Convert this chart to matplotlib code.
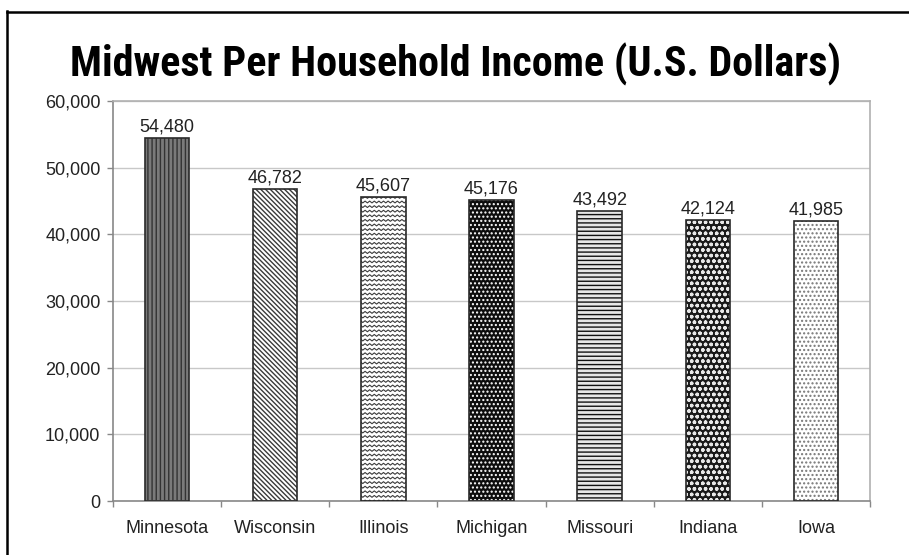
import numpy as np
import matplotlib as mpl
mpl.use('Agg')
import matplotlib.pyplot as plt
import matplotlib.ticker as ticker
from matplotlib import font_manager
from matplotlib.lines import Line2D

# Data
states = ['Minnesota', 'Wisconsin', 'Illinois', 'Michigan', 'Missouri', 'Indiana', 'Iowa']
income = [54480, 46782, 45607, 45176, 43492, 42124, 41985]
yticks = [0, 10000, 20000, 30000, 40000, 50000, 60000]

# face colour, hatch, hatch colour (None hatch = zigzag drawn by hand)
styles = [
    ('#7a7a7a', '||||', '#333333'),
    ('white', '\\' * 7, '#3a3a3a'),
    ('white', None, '#3a3a3a'),
    ('#0d0d0d', '....', 'white'),
    ('#e6e6e6', '----', '#111111'),
    ('#1a1a1a', 'ooo', '#e8e8e8'),
    ('white', '....', '#777777'),
]

installed = {f.name for f in font_manager.fontManager.ttflist}
title_font = next((f for f in ['Liberation Sans Narrow', 'DejaVu Sans Condensed',
                               'Roboto Condensed', 'Open Sans Condensed']
                   if f in installed), 'DejaVu Sans')
body_font = 'Liberation Sans' if 'Liberation Sans' in installed else 'DejaVu Sans'

plt.rcParams['font.family'] = [body_font, 'DejaVu Sans']
plt.rcParams['hatch.linewidth'] = 1.0

fig = plt.figure(figsize=(9.09, 5.55), dpi=100, facecolor='w')
ax = fig.add_axes([113/909, 54/555, 757/909, 400/555])
ax.set_axisbelow(True)

x = np.arange(len(states))
ax.set_xlim(-0.5, len(states) - 0.5)
ax.set_ylim(0, 60000)

bars = []
for i, (face, hatch, hcol) in enumerate(styles):
    ax.bar(x[i], income[i], width=0.41, color=face, edgecolor=hcol,
           hatch=hatch, lw=0, zorder=2)
    b = ax.bar(x[i], income[i], width=0.41, facecolor='none',
               edgecolor='#2a2a2a', lw=1.2, zorder=4)
    bars.append(b)

# zigzag texture for Illinois
inv = ax.transData.inverted()
p0 = inv.transform((0, 0))
p1 = inv.transform((1, 1))
dxp, dyp = p1[0] - p0[0], p1[1] - p0[1]
zz_bar = bars[2].patches[0]
x0, x1 = zz_bar.get_x(), zz_bar.get_x() + zz_bar.get_width()
xs, ys = [], []
for row in np.arange(0, income[2] + 5 * dyp, 4.6 * dyp):
    xx = np.arange(x0 - 3 * dxp, x1 + 3 * dxp, 2.3 * dxp)
    yy = row + np.where(np.arange(len(xx)) % 2 == 0, -0.9, 0.9) * dyp
    xs.extend(list(xx) + [np.nan])
    ys.extend(list(yy) + [np.nan])
zz, = ax.plot(xs, ys, color='#3a3a3a', lw=0.8, zorder=3)
zz.set_clip_path(zz_bar)

for b in bars:
    ax.bar_label(b, labels=[f'{v:,.0f}' for v in b.datavalues],
                 padding=2, fontsize=13, color='#222222')

ax.set_yticks(yticks)
ax.yaxis.set_major_formatter(ticker.FuncFormatter(lambda v, p: f'{v:,.0f}'))
ax.set_xticks(x)
ax.set_xticklabels(states)
ax.set_xticks(np.arange(-0.5, len(states)), minor=True)
ax.grid(axis='y', color='#c8c8c8', lw=1.0)
ax.tick_params(axis='y', length=4, width=1, color='#888888', pad=5,
               labelsize=13, labelcolor='#222222')
ax.tick_params(axis='x', which='major', length=0, pad=14,
               labelsize=13, labelcolor='#222222')
ax.tick_params(axis='x', which='minor', length=4, width=1, color='#888888')
for s in ['left', 'bottom']:
    ax.spines[s].set_color('#888888')
for s in ['top', 'right']:
    ax.spines[s].set_color('#b0b0b0')
for s in ax.spines.values():
    s.set_linewidth(1.2)

# title, sized to fit the original width
title = fig.text(455/909, 1 - 64/555, 'Midwest Per Household Income (U.S. Dollars)',
                 ha='center', va='center', fontsize=30, fontweight='bold',
                 family=[title_font, 'DejaVu Sans'], color='black')
r = fig.canvas.get_renderer()
w = title.get_window_extent(r).width
title.set_fontsize(min(40, 30 * 770 / w))

# frame lines
fig.add_artist(Line2D([7.5/909, 7.5/909], [0, 1 - 11/555], color='black',
                      lw=1.8, transform=fig.transFigure))
fig.add_artist(Line2D([7.5/909, 1], [1 - 11.5/555, 1 - 11.5/555], color='black',
                      lw=1.8, transform=fig.transFigure))

plt.savefig('out.png', dpi=100)
